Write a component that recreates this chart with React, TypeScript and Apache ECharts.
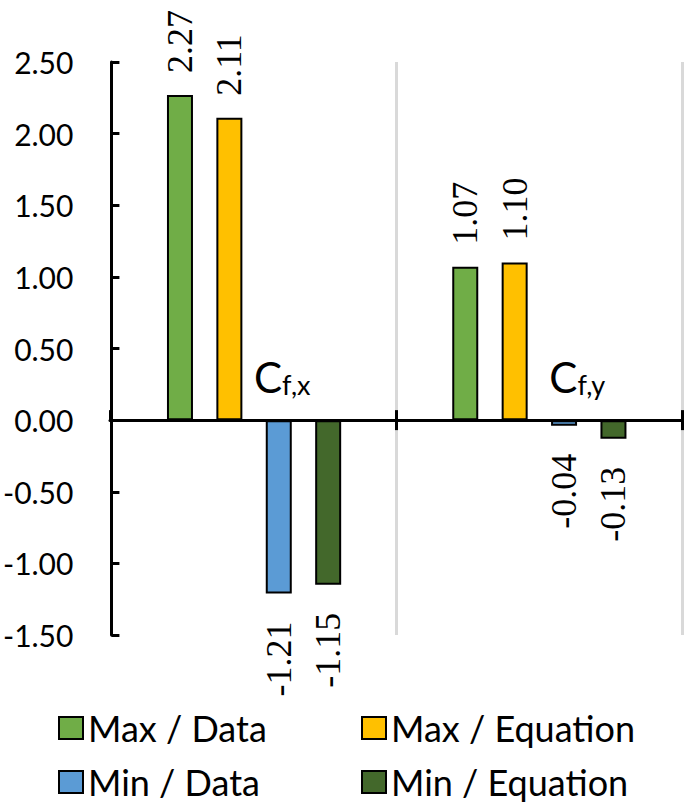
import React, { useEffect, useRef } from 'react';
import * as echarts from 'echarts';

const categories = ['Cf,x', 'Cf,y'];
const seriesNames = ['Max / Data', 'Max / Equation', 'Min / Data', 'Min / Equation'];
const maxData = [2.27, 1.07];
const maxEquation = [2.11, 1.1];
const minData = [-1.21, -0.04];
const minEquation = [-1.15, -0.13];
const seriesValues = [maxData, maxEquation, minData, minEquation];
const colors = ['#70AD47', '#FFC000', '#5B9BD5', '#43682B'];
const yMin = -1.5;
const yMax = 2.5;
const yInterval = 0.5;

export default function App() {
  const ref = useRef<HTMLDivElement>(null);
  useEffect(() => {
    document.body.style.margin = '0';
    const chart = echarts.init(ref.current!, undefined, { renderer: 'svg' });
    const sans = 'Lato';
    const serif = 'Liberation Serif, Times New Roman, serif';
    const labelText = {
      fontFamily: serif,
      fontSize: 36,
      color: '#000',
    };
    const series = seriesValues.map((vals, i) => ({
      name: seriesNames[i],
      type: 'bar',
      xAxisIndex: 0,
      yAxisIndex: 0,
      barWidth: 26,
      barGap: '90%',
      itemStyle: { color: colors[i], borderColor: '#000', borderWidth: 2 },
      label: {
        show: true,
        rotate: 90,
        verticalAlign: 'middle',
        ...labelText,
        formatter: (p: any) => Number(p.value).toFixed(2),
      },
      data: vals.map((v) => ({
        value: v,
        label: {
          ...labelText,
          position: v >= 0 ? 'top' : 'bottom',
          align: v >= 0 ? 'left' : 'right',
          distance: v >= 0 ? 22 : 28,
        },
      })),
    }));
    const axisLine = { show: true, onZero: true, lineStyle: { color: '#000', width: 3 } };
    const legendPos = [
      { left: 53, top: 705 },
      { left: 356, top: 705 },
      { left: 53, top: 759 },
      { left: 356, top: 759 },
    ];
    const gridBox = { left: 110, right: 3, top: 62, bottom: 171, containLabel: false };
    chart.setOption({
      animation: false,
      backgroundColor: '#fff',
      grid: [gridBox, gridBox],
      legend: seriesNames.map((name, i) => ({
        data: [name],
        left: legendPos[i].left,
        top: legendPos[i].top,
        icon: 'rect',
        itemWidth: 24,
        itemHeight: 22,
        textStyle: { fontFamily: sans, fontSize: 36, color: '#000' },
      })),
      xAxis: [
        {
          type: 'category',
          gridIndex: 0,
          data: categories,
          axisLine,
          axisTick: { show: true, length: 10, lineStyle: { color: '#000', width: 3 } },
          splitLine: { show: true, lineStyle: { color: '#d9d9d9', width: 3 } },
          axisLabel: {
            show: true,
            inside: true,
            margin: 237,
            align: 'left',
            interval: 0,
            formatter: (v: string, idx: number) => `{c${idx}|${v.slice(0, 1)}}{s|${v.slice(1)}}`,
            rich: {
              c0: { fontFamily: sans, fontSize: 42, lineHeight: 42, verticalAlign: 'top', padding: [0, 0, 5, 0], color: '#000' },
              c1: { fontFamily: sans, fontSize: 42, lineHeight: 42, verticalAlign: 'top', padding: [0, 0, 5, 10], color: '#000' },
              s: { fontFamily: sans, fontSize: 27, lineHeight: 27, verticalAlign: 'bottom', color: '#000' },
            },
          },
        },
        {
          type: 'category',
          gridIndex: 1,
          data: categories,
          axisLine,
          axisTick: { show: true, inside: true, length: 10, lineStyle: { color: '#000', width: 3 } },
          splitLine: { show: false },
          axisLabel: { show: false },
        },
      ],
      yAxis: [
        {
          type: 'value',
          gridIndex: 0,
          min: yMin,
          max: yMax,
          interval: yInterval,
          axisLine: { show: true, lineStyle: { color: '#000', width: 3 } },
          axisTick: { show: true, inside: true, length: 8, lineStyle: { color: '#000', width: 3 } },
          splitLine: { show: false },
          axisLabel: {
            margin: 38,
            fontFamily: sans,
            fontSize: 30,
            color: '#000',
            formatter: (v: number) => v.toFixed(2),
          },
        },
        {
          type: 'value',
          gridIndex: 1,
          min: yMin,
          max: yMax,
          interval: yInterval,
          show: false,
        },
      ],
      series,
    });
    return () => chart.dispose();
  }, []);
  return <div ref={ref} style={{ width: 685, height: 806 }} />;
}
